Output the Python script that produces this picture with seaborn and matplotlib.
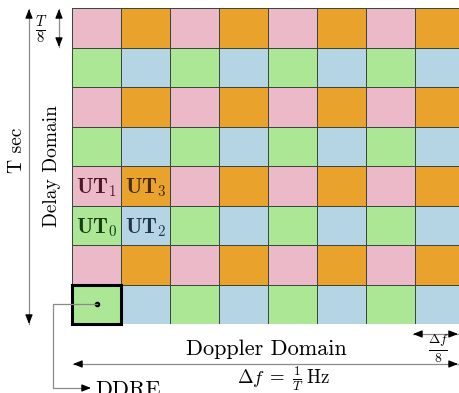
import numpy as np
import matplotlib
matplotlib.use("Agg")
import matplotlib.pyplot as plt
from matplotlib.colors import ListedColormap
from matplotlib.patches import Rectangle
import seaborn as sns

# Delay-Doppler grid: 8 delay bins (rows, top to bottom) x 8 Doppler bins (columns)
n_delay = 8
n_doppler = 8
# user-group index per cell: 0 = UT1 (pink), 1 = UT3 (orange), 2 = UT0 (green), 3 = UT2 (blue)
row_pattern_odd = [0, 1, 0, 1, 0, 1, 0, 1]
row_pattern_even = [2, 3, 2, 3, 2, 3, 2, 3]
cell_group = np.array([row_pattern_odd if r % 2 == 0 else row_pattern_even
                       for r in range(n_delay)])
group_colors = ["#ECB9C9", "#E9A22B", "#ABE795", "#B5D4E4"]

# UT labels: (row, column, text, colour)
ut_rows = [4, 4, 5, 5]
ut_cols = [0, 1, 0, 1]
ut_text = [r"$\mathbf{UT}_\mathbf{1}$", r"$\mathbf{UT}_\mathbf{3}$",
           r"$\mathbf{UT}_\mathbf{0}$", r"$\mathbf{UT}_\mathbf{2}$"]
ut_colors = ["#4E1626", "#4A2A0C", "#173E10", "#22344A"]

# resource element highlighted as the DD resource element
ddre_row, ddre_col = 7, 0

plt.rcParams["font.family"] = "serif"
plt.rcParams["font.serif"] = ["cmr10", "DejaVu Serif"]
plt.rcParams["mathtext.fontset"] = "cm"
plt.rcParams["axes.unicode_minus"] = False

W, H = 459, 393
fig = plt.figure(figsize=(W / 100, H / 100), dpi=100)

# grid placement in pixels
gx0, gy0, cw, ch = 72, 8, 49, 39.5
ax = fig.add_axes([gx0 / W, 1 - (gy0 + n_delay * ch) / H,
                   n_doppler * cw / W, n_delay * ch / H])
sns.heatmap(cell_group, cmap=ListedColormap(group_colors), vmin=-0.5, vmax=3.5,
            cbar=False, linewidths=0.6, linecolor="#3A473A",
            xticklabels=False, yticklabels=False, ax=ax)
ax.set_xlabel("")
ax.set_ylabel("")

for r, c, t, col in zip(ut_rows, ut_cols, ut_text, ut_colors):
    ax.text(c + 0.5, r + 0.55, t, ha="center", va="center",
            fontsize=15.5, color=col)

ax.add_patch(Rectangle((ddre_col, ddre_row), 1, 1, fill=False,
                       lw=2.2, edgecolor="black", zorder=5, clip_on=False))
ax.plot([ddre_col + 0.5], [ddre_row + 0.5], "o", color="black", ms=3, zorder=6)

# overlay in pixel coordinates for arrows and labels
ov = fig.add_axes([0, 0, 1, 1], facecolor="none")
ov.set_xlim(0, W)
ov.set_ylim(H, 0)
ov.axis("off")

line_col = "#8A8A8A"


def head(tip, frm):
    ov.annotate("", xy=tip, xytext=frm,
                arrowprops=dict(arrowstyle="-|>,head_length=0.55,head_width=0.22",
                                color="black", lw=0.8, shrinkA=0, shrinkB=0))


def double_arrow(p0, p1):
    ov.plot([p0[0], p1[0]], [p0[1], p1[1]], color=line_col, lw=0.9)
    d = np.subtract(p1, p0).astype(float)
    d /= np.hypot(*d)
    head(p0, tuple(np.add(p0, d * 4)))
    head(p1, tuple(np.subtract(p1, d * 4)))


# T sec (vertical, full delay extent)
double_arrow((29, 9), (29, 324))
ov.text(17, 150, "T sec", rotation=90, ha="center", va="center", fontsize=14)
# T/8 (one delay bin)
double_arrow((59, 9), (59, 47))
ov.text(41, 30, r"$\frac{T}{8}$", ha="center", va="center", fontsize=15)
# Delay Domain
ov.text(52, 166, "Delay Domain", rotation=90, ha="center", va="center", fontsize=14)

# Doppler Domain
ov.text(266, 349, "Doppler Domain", ha="center", va="center", fontsize=16)
double_arrow((73, 364), (458, 364))
ov.text(284, 379, r"$\Delta f\; =\; \frac{1}{T}\;\mathrm{Hz}$", ha="center",
        va="center", fontsize=13.5)
# Δf/8 (one Doppler bin)
double_arrow((413, 334), (458, 334))
ov.text(438, 349, r"$\frac{\Delta f}{8}$", ha="center", va="center", fontsize=14)

# DDRE pointer from the highlighted cell
dot_disp = ax.transData.transform((ddre_col + 0.5, ddre_row + 0.5))
dot_px = ov.transData.inverted().transform(dot_disp)
ov.plot([dot_px[0], 53, 53, 86], [dot_px[1], dot_px[1], 388, 388],
        color=line_col, lw=0.9)
head((91, 388), (85, 388))
ov.text(95, 380, "DDRE", ha="left", va="top", fontsize=16)

fig.savefig("out.png", dpi=100)
